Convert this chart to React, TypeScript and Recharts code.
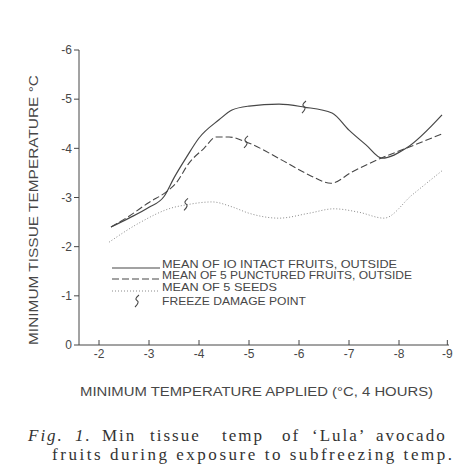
import { ComposedChart, Line, Scatter, XAxis, YAxis } from 'recharts';

// values (x = min temperature applied, y = min tissue temperature)
const intactX = [-2.24, -2.6, -3.0, -3.3, -3.5, -3.75, -4.0, -4.4, -4.66, -5.0, -5.6, -6.1, -6.66, -7.0, -7.34, -7.66, -8.14, -8.86];
const intactY = [-2.4, -2.58, -2.8, -3.02, -3.4, -3.82, -4.21, -4.58, -4.78, -4.86, -4.9, -4.84, -4.72, -4.37, -4.07, -3.8, -4.0, -4.68];

const puncturedX = [-2.24, -2.6, -3.0, -3.34, -3.54, -3.8, -4.1, -4.34, -4.6, -4.94, -5.66, -6.2, -6.64, -7.06, -7.64, -8.14, -8.9];
const puncturedY = [-2.4, -2.62, -2.9, -3.11, -3.29, -3.7, -4.0, -4.23, -4.23, -4.13, -3.76, -3.46, -3.29, -3.52, -3.8, -4.0, -4.31];

const seedsX = [-2.2, -2.8, -3.46, -3.74, -4.26, -4.66, -5.0, -5.6, -6.2, -6.7, -7.2, -7.7, -8.26, -8.88];
const seedsY = [-2.09, -2.48, -2.79, -2.85, -2.91, -2.81, -2.68, -2.58, -2.68, -2.77, -2.7, -2.58, -3.05, -3.56];

const freezeX = [-6.1, -4.94, -3.74];
const freezeY = [-4.84, -4.13, -2.86];

const xTicks = [-2, -3, -4, -5, -6, -7, -8, -9];
const yTicks = [-6, -5, -4, -3, -2, -1, 0];

const legendLabels = [
  'MEAN OF IO INTACT FRUITS, OUTSIDE',
  'MEAN OF 5 PUNCTURED FRUITS, OUTSIDE',
  'MEAN OF 5 SEEDS',
  'FREEZE DAMAGE POINT',
];

const captionWords = ['Fig.', '1.', 'Min', 'tissue', 'temp', 'of', '‘Lula’', 'avocado'];
const captionWordX = [28, 75, 102, 150, 222, 282, 312, 376];
const captionLine2 = 'fruits during exposure to subfreezing temp.';

const toPoints = (xs: number[], ys: number[]) => xs.map((x, i) => ({ x, y: ys[i] }));

const ink = '#474747';
const font = '"Liberation Sans", Arial, sans-serif';
const serif = '"Liberation Serif", "Times New Roman", serif';

const squiggle = (cx: number, cy: number) =>
  `M${cx + 2},${cy - 6} Q${cx - 3},${cy - 2} ${cx},${cy - 0.5} Q${cx + 3},${cy + 1} ${cx - 2},${cy + 6}`;

const FreezeMark = (props: any) => {
  const { cx, cy } = props;
  if (cx == null || cy == null) return null;
  return <path d={squiggle(cx, cy)} fill="none" stroke={ink} strokeWidth={1.1} />;
};

const XTick = (props: any) => {
  const { x, y, payload } = props;
  return (
    <g>
      <line x1={x} y1={345} x2={x} y2={340} stroke={ink} strokeWidth={1} />
      <text x={x} y={y + 11} textAnchor="middle" fontSize={12} fill={ink} fontFamily={font}>
        {payload.value}
      </text>
    </g>
  );
};

export default function App() {
  return (
    <div style={{ position: 'absolute', left: 0, top: 0, width: 454, height: 472, background: '#fff' }}>
      <ComposedChart width={454} height={380} margin={{ top: 50, right: 5, left: 39, bottom: 5 }}>
        <XAxis
          type="number"
          dataKey="x"
          domain={[-9, -1.6]}
          reversed
          ticks={xTicks}
          allowDataOverflow
          tickLine={false}
          tickSize={0}
          height={30}
          tick={<XTick />}
          axisLine={{ stroke: ink }}
        />
        <YAxis
          type="number"
          dataKey="y"
          domain={[-6, 0]}
          reversed
          ticks={yTicks}
          width={40}
          tickSize={5}
          tick={{ fontSize: 12, fill: ink, fontFamily: font }}
          tickLine={{ stroke: ink }}
          axisLine={{ stroke: ink }}
        />
        <Line data={toPoints(intactX, intactY)} dataKey="y" type="monotone" stroke={ink} strokeWidth={1.2} dot={false} isAnimationActive={false} />
        <Line data={toPoints(puncturedX, puncturedY)} dataKey="y" type="monotone" stroke={ink} strokeWidth={1.1} strokeDasharray="7 3" dot={false} isAnimationActive={false} />
        <Line data={toPoints(seedsX, seedsY)} dataKey="y" type="monotone" stroke="#8a8a8a" strokeWidth={1} strokeDasharray="1 2" dot={false} isAnimationActive={false} />
        <Scatter data={toPoints(freezeX, freezeY)} dataKey="y" shape={<FreezeMark />} isAnimationActive={false} />
      </ComposedChart>
      <svg width={454} height={472} style={{ position: 'absolute', left: 0, top: 0, pointerEvents: 'none' }}>
        <text transform="translate(38,210) rotate(-90)" textAnchor="middle" fontSize={13} fill={ink} fontFamily={font} textLength={270} lengthAdjust="spacingAndGlyphs">
          MINIMUM TISSUE TEMPERATURE °C
        </text>
        <g fontFamily={font} fontSize={11} fill={ink}>
          <line x1={112} y1={268} x2={160} y2={268} stroke={ink} strokeWidth={1.2} />
          <line x1={112} y1={279} x2={160} y2={279} stroke={ink} strokeWidth={1.1} strokeDasharray="7 3" />
          <line x1={112} y1={291} x2={160} y2={291} stroke="#8a8a8a" strokeWidth={1} strokeDasharray="1 2" />
          <path d={squiggle(137, 301)} fill="none" stroke={ink} strokeWidth={1.1} />
          <text x={162} y={268} textLength={235} lengthAdjust="spacingAndGlyphs">{legendLabels[0]}</text>
          <text x={162} y={279} textLength={250} lengthAdjust="spacingAndGlyphs">{legendLabels[1]}</text>
          <text x={162} y={291} textLength={115} lengthAdjust="spacingAndGlyphs">{legendLabels[2]}</text>
          <text x={162} y={305} textLength={144} lengthAdjust="spacingAndGlyphs">{legendLabels[3]}</text>
        </g>
        <text x={80} y={396} fontSize={12} fill={ink} fontFamily={font} textLength={353} lengthAdjust="spacingAndGlyphs">
          MINIMUM TEMPERATURE APPLIED (°C, 4 HOURS)
        </text>
        <g fontFamily={serif} fontSize={17} fill="#333">
          {captionWords.map((w, i) => (
            <text key={i} x={captionWordX[i]} y={441} letterSpacing={2} fontStyle={i < 2 ? 'italic' : 'normal'}>{w}</text>
          ))}
          <text x={52} y={460} textLength={400} lengthAdjust="spacing">
            {captionLine2}
          </text>
        </g>
      </svg>
    </div>
  );
}
